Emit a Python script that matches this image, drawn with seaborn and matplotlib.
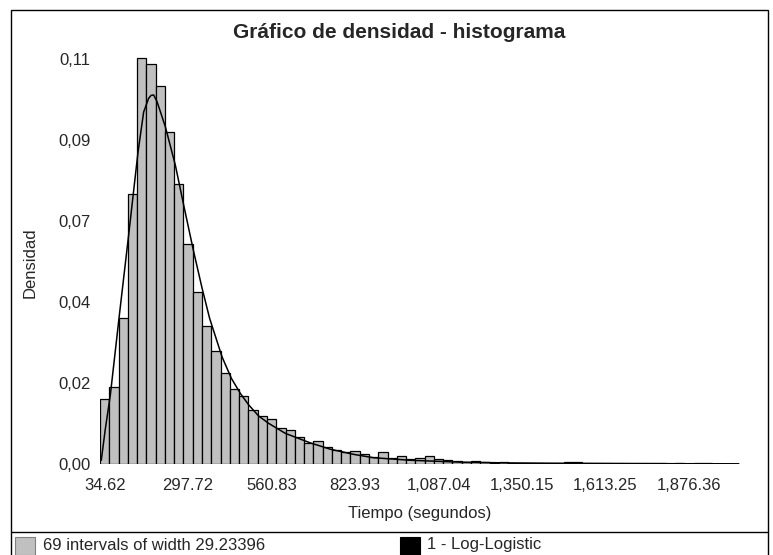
import numpy as np
import pandas as pd
import seaborn as sns
import matplotlib.pyplot as plt
from matplotlib.patches import Rectangle
from matplotlib.lines import Line2D

# histogram: 69 intervals of width 29.23396, first one starts at 20.0
bin_start = 20.0
bin_width = 29.23396
bar_heights = [
    0.0175, 0.0208, 0.0396, 0.0730, 0.1100, 0.1082, 0.1023, 0.0899, 0.0757, 0.0595,
    0.0465, 0.0374, 0.0307, 0.0247, 0.0204, 0.0183, 0.0145, 0.0129, 0.0123, 0.0098,
    0.0093, 0.0074, 0.0056, 0.0063, 0.0046, 0.0037, 0.0032, 0.0036, 0.0028, 0.0019,
    0.0033, 0.0015, 0.0021, 0.0013, 0.0017, 0.0021, 0.0014, 0.0011, 0.0009, 0.0006,
    0.0007, 0.0005, 0.0004, 0.0005, 0.0004, 0.0003, 0.0004, 0.0003, 0.0004, 0.0003,
    0.0005, 0.0005, 0.0003, 0.0004, 0.0002, 0.0002, 0.0003, 0.0004, 0.0002, 0.0004,
    0.0002, 0.0001, 0.0002, 0.0001, 0.0003, 0.0002, 0.0001, 0.0001, 0.0001,
]

# fitted log-logistic curve
curve_x = [24, 36.8, 52.6, 81, 110.3, 139.9, 157.6, 173.3, 181, 189, 199.8, 226,
           257.5, 283.7, 315.2, 341.7, 365.6, 404.7, 434, 462.4, 488.6, 520, 551.6,
           604, 680, 746, 820, 882, 1000, 1156, 1300, 1440, 1700, 2033]
curve_y = [0.0010, 0.0095, 0.0187, 0.0403, 0.0620, 0.0845, 0.0953, 0.0990, 0.0998,
           0.0999, 0.0981, 0.0913, 0.0809, 0.0701, 0.0575, 0.0476, 0.0394, 0.0290,
           0.0232, 0.0191, 0.0160, 0.0130, 0.0110, 0.0083, 0.0058, 0.0040, 0.0026,
           0.0017, 0.0010, 0.0005, 0.0003, 0.0002, 0.0001, 0.00005]

xtick_vals = [34.62, 297.72, 560.83, 823.93, 1087.04, 1350.15, 1613.25, 1876.36]
xtick_labels = ["34.62", "297.72", "560.83", "823.93", "1,087.04", "1,350.15",
                "1,613.25", "1,876.36"]
ytick_vals = [0, 0.0219, 0.0438, 0.0658, 0.0877, 0.1096]
ytick_labels = ["0,00", "0,02", "0,04", "0,07", "0,09", "0,11"]

n_bins = len(bar_heights)
x_lo = bin_start
x_hi = bin_start + bin_width * n_bins
centers = x_lo + bin_width * (np.arange(n_bins) + 0.5)
df = pd.DataFrame({"tiempo": centers, "densidad": bar_heights})

sns.set_style("white")
plt.rcParams["font.family"] = ["Liberation Sans", "DejaVu Sans"]

W, H = 773, 555
fig = plt.figure(figsize=(W / 100, H / 100), dpi=100)
ax = fig.add_axes([100 / W, 1 - 464 / H, 640 / W, 410 / H])

sns.histplot(data=df, x="tiempo", weights="densidad", bins=n_bins,
             binrange=(x_lo, x_hi), stat="count",
             color="#c0c0c0", edgecolor="black", linewidth=0.9, alpha=1, ax=ax)
sns.lineplot(x=curve_x, y=curve_y, color="black", linewidth=1.1, ax=ax)

ax.set_xlim(x_lo, x_hi)
ax.set_ylim(0, 0.111)
ax.set_xticks(xtick_vals)
ax.set_xticklabels(xtick_labels, fontsize=12)
ax.set_yticks(ytick_vals)
ax.set_yticklabels(ytick_labels, fontsize=12)
ax.tick_params(axis="both", direction="out", color="#a0a0a0", length=5, width=1)
ax.tick_params(axis="x", pad=5)
ax.tick_params(axis="y", pad=2)
for s in ax.spines.values():
    s.set_visible(False)

ax.set_xlabel("Tiempo (segundos)", fontsize=12)
ax.xaxis.set_label_coords(0.5, -0.102)
ax.set_ylabel("Densidad", fontsize=12)
ax.yaxis.set_label_coords(-0.098, 0.49)

fig.text(399 / W, 1 - 32 / H, "Gráfico de densidad - histograma", fontsize=15,
         fontweight="bold", ha="center", va="center")

# outer frame and legend strip
fig.add_artist(Rectangle((11 / W, -0.01), 757 / W, (H - 10) / H + 0.01,
                         transform=fig.transFigure, fill=False,
                         edgecolor="black", linewidth=1))
fig.add_artist(Line2D([11 / W, 768 / W], [1 - 532 / H, 1 - 532 / H],
                      transform=fig.transFigure, color="black", linewidth=1))
fig.add_artist(Rectangle((15 / W, 1 - 555 / H), 20 / W, 18 / H,
                         transform=fig.transFigure, facecolor="#c0c0c0",
                         edgecolor="#808080", linewidth=0.8))
fig.text(43 / W, 1 - 545 / H, "69 intervals of width 29.23396", fontsize=12,
         va="center")
fig.add_artist(Rectangle((400 / W, 1 - 555 / H), 20 / W, 18 / H,
                         transform=fig.transFigure, facecolor="black",
                         edgecolor="black", linewidth=0.8))
fig.text(427 / W, 1 - 545 / H, "1 - Log-Logistic", fontsize=12, va="center")

fig.savefig("out.png", dpi=100)
